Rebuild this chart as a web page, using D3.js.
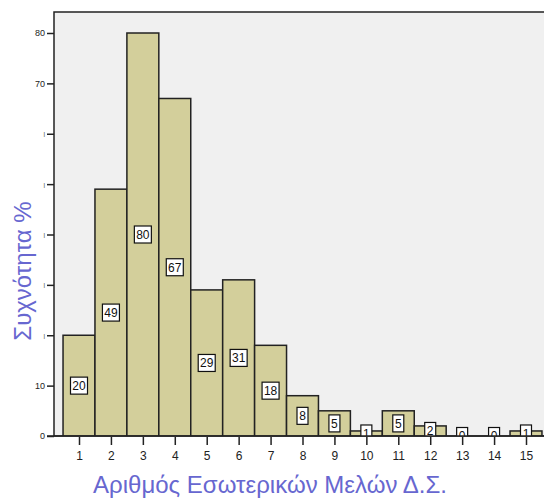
<!DOCTYPE html>
<html lang="el">
  <head>
    <meta charset="UTF-8" />
    <title>Συχνότητα μελών</title>
    <style type="text/css">
      html,
      body {
        margin: 0;
        padding: 0;
        background: #fff;
      }
      svg {
        display: block;
        font-family: "Liberation Sans", Arial, sans-serif;
      }
    </style>
  </head>
  <body>
    <div id="chart"></div>
    <script src="https://cdn.jsdelivr.net/npm/d3@7/dist/d3.min.js"></script>
    <script>
      // === Data === //

      var members = [1, 2, 3, 4, 5, 6, 7, 8, 9, 10, 11, 12, 13, 14, 15];
      var counts = [20, 49, 80, 67, 29, 31, 18, 8, 5, 1, 5, 2, 0, 0, 1];
      var yTicks = [0, 10, 20, 30, 40, 50, 60, 70, 80];
      var yTickLabels = ["0", "10", "|", "|", "|", "|", "|", "70", "80"];

      // === Layout === //

      var width = 544,
        height = 500;
      var plot = { left: 54, top: 12, right: 560, bottom: 436 };

      var x = d3
        .scaleLinear()
        .domain([1, 15])
        .range([79, 526]);
      var step = x(2) - x(1);

      var y = d3
        .scaleLinear()
        .domain([0, 80])
        .range([plot.bottom, 33]);

      var svg = d3
        .select("#chart")
        .append("svg")
        .attr("width", width)
        .attr("height", height);

      svg
        .append("defs")
        .append("clipPath")
        .attr("id", "plotclip")
        .append("rect")
        .attr("x", plot.left)
        .attr("y", plot.top)
        .attr("width", plot.right - plot.left)
        .attr("height", plot.bottom - plot.top);

      // plot background
      svg
        .append("rect")
        .attr("x", plot.left)
        .attr("y", plot.top)
        .attr("width", plot.right - plot.left)
        .attr("height", plot.bottom - plot.top)
        .attr("fill", "#f0f0f0")
        .attr("stroke", "#222")
        .attr("stroke-width", 1.5);

      var data = members.map(function(m, i) {
        return { m: m, v: counts[i] };
      });

      // === Bars === //

      var g = svg.append("g").attr("clip-path", "url(#plotclip)");

      g.selectAll("rect.bar")
        .data(data)
        .enter()
        .append("rect")
        .attr("class", "bar")
        .attr("x", function(d) {
          return x(d.m) - step / 2;
        })
        .attr("y", function(d) {
          return y(d.v);
        })
        .attr("width", step)
        .attr("height", function(d) {
          return y(0) - y(d.v);
        })
        .attr("fill", "#d3cf9b")
        .attr("stroke", "#222")
        .attr("stroke-width", 1.5);

      // value labels in boxes (clipped at the axis like the original)
      var lab = g
        .selectAll("g.lab")
        .data(data)
        .enter()
        .append("g")
        .attr("class", "lab")
        .attr("transform", function(d) {
          return "translate(" + x(d.m) + "," + y(d.v / 2) + ")";
        });

      lab
        .append("rect")
        .attr("x", function(d) {
          return d.v >= 10 ? -8.5 : -5.5;
        })
        .attr("y", -8.5)
        .attr("width", function(d) {
          return d.v >= 10 ? 17 : 11;
        })
        .attr("height", 17)
        .attr("fill", "#fff")
        .attr("stroke", "#111")
        .attr("stroke-width", 1.2);

      lab
        .append("text")
        .attr("text-anchor", "middle")
        .attr("dy", "0.36em")
        .attr("font-size", 12)
        .attr("fill", "#111")
        .text(function(d) {
          return d.v;
        });

      // === Axes === //

      svg
        .append("line")
        .attr("x1", plot.left - 7)
        .attr("x2", width)
        .attr("y1", plot.bottom)
        .attr("y2", plot.bottom)
        .attr("stroke", "#222")
        .attr("stroke-width", 1.5);

      var yAxis = svg
        .append("g")
        .attr("transform", "translate(" + plot.left + ",0)")
        .call(
          d3
            .axisLeft(y)
            .tickValues(yTicks)
            .tickSize(7)
            .tickPadding(2)
            .tickFormat(function(d, i) {
              return yTickLabels[i];
            })
        );
      yAxis.select(".domain").remove();
      yAxis.selectAll("line").attr("stroke", "#222").attr("stroke-width", 1.5);
      yAxis
        .selectAll("text")
        .attr("font-family", "Liberation Sans, Arial, sans-serif")
        .attr("font-size", function(d, i) {
          return yTickLabels[i] === "|" ? 6 : 9;
        })
        .attr("fill", "#222");

      var xAxis = svg
        .append("g")
        .attr("transform", "translate(0," + (plot.bottom + 1) + ")")
        .call(
          d3
            .axisBottom(x)
            .tickValues(members)
            .tickSize(8)
            .tickPadding(6)
            .tickFormat(d3.format("d"))
        );
      xAxis.select(".domain").remove();
      xAxis.selectAll("line").attr("stroke", "#222").attr("stroke-width", 1.5);
      xAxis
        .selectAll("text")
        .attr("font-family", "Liberation Sans, Arial, sans-serif")
        .attr("font-size", 12)
        .attr("fill", "#222");

      // === Titles === //

      svg
        .append("text")
        .attr("x", 270)
        .attr("y", 493)
        .attr("text-anchor", "middle")
        .attr("font-size", 24)
        .attr("fill", "#6767d0")
        .text("Αριθμός Εσωτερικών Μελών Δ.Σ.");

      svg
        .append("text")
        .attr("transform", "translate(31,271) rotate(-90)")
        .attr("text-anchor", "middle")
        .attr("font-size", 24)
        .attr("fill", "#6767d0")
        .text("Συχνότητα %");
    </script>
  </body>
</html>
